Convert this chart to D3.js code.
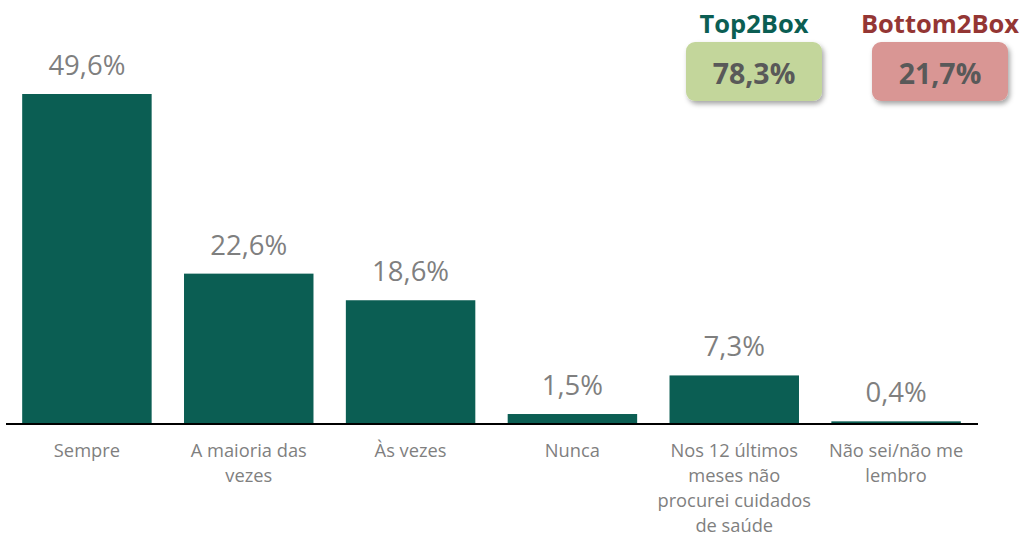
<!DOCTYPE html>
<html>
<head>
<meta charset="utf-8">
<script src="https://cdn.jsdelivr.net/npm/d3@7"></script>
<style>
  html, body { margin: 0; padding: 0; background: #fff; }
  svg { display: block; }
</style>
</head>
<body>
<svg id="chart" width="1021" height="536"></svg>
<script>
// Response categories (lines of each wrapped label) and their shares in percent
const categories = [
  ["Sempre"],
  ["A maioria das", "vezes"],
  ["Às vezes"],
  ["Nunca"],
  ["Nos 12 últimos", "meses não", "procurei cuidados", "de saúde"],
  ["Não sei/não me", "lembro"]
];
const values = [49.6, 22.6, 18.6, 1.5, 7.3, 0.4];

// Summary boxes
const summaryNames = ["Top2Box", "Bottom2Box"];
const summaryValues = [78.3, 21.7];

const fmt = v => v.toFixed(1).replace(".", ",") + "%";

const svg = d3.select("#chart");
const font = "'Open Sans', 'Liberation Sans', sans-serif";

const baseline = 424;
const x = d3.scaleBand()
  .domain(d3.range(categories.length))
  .range([6, 977])
  .paddingInner(0.2)
  .paddingOuter(0.1);

const y = d3.scaleLinear()
  .domain([0, 49.6])
  .range([baseline, 94]);

// Bars
svg.append("g").selectAll("rect")
  .data(values)
  .join("rect")
  .attr("x", (d, i) => x(i))
  .attr("y", d => y(d))
  .attr("width", x.bandwidth())
  .attr("height", d => baseline - y(d))
  .attr("fill", "#0b5e53");

// Value labels
svg.append("g").selectAll("text")
  .data(values)
  .join("text")
  .attr("x", (d, i) => x(i) + x.bandwidth() / 2)
  .attr("y", d => y(d) - 19)
  .attr("text-anchor", "middle")
  .attr("font-family", font)
  .attr("font-size", 27.5)
  .attr("fill", "#7f7f7f")
  .text(d => fmt(d));

// Baseline axis
const xAxis = d3.axisBottom(x).tickSize(0).tickFormat("");
const axisG = svg.append("g")
  .attr("transform", `translate(0,${baseline})`)
  .call(xAxis);
axisG.select(".domain")
  .attr("d", "M6,0H978")
  .attr("stroke", "#000")
  .attr("stroke-width", 2);

// Category labels, wrapped lines
const labels = svg.append("g").selectAll("text")
  .data(categories)
  .join("text")
  .attr("text-anchor", "middle")
  .attr("font-family", font)
  .attr("font-size", 18.3)
  .attr("fill", "#7f7f7f");
labels.each(function (lines, i) {
  const t = d3.select(this);
  lines.forEach((line, j) => {
    t.append("tspan")
      .attr("x", x(i) + x.bandwidth() / 2)
      .attr("y", 457 + j * 25)
      .text(line);
  });
});

// Summary boxes with shadow
const defs = svg.append("defs");
const filt = defs.append("filter").attr("id", "shadow")
  .attr("x", "-20%").attr("y", "-20%").attr("width", "150%").attr("height", "160%");
filt.append("feDropShadow")
  .attr("dx", 2).attr("dy", 3).attr("stdDeviation", 2.5)
  .attr("flood-color", "#000").attr("flood-opacity", 0.35);

const boxX = d3.scaleOrdinal().domain(summaryNames).range([686, 872]);
const boxFill = d3.scaleOrdinal().domain(summaryNames).range(["#c3d69b", "#d99694"]);
const titleFill = d3.scaleOrdinal().domain(summaryNames).range(["#0b5e53", "#943634"]);
const boxW = 136, boxH = 59;

const boxes = svg.append("g").selectAll("g")
  .data(summaryNames.map((n, i) => ({ name: n, value: summaryValues[i] })))
  .join("g");
boxes.append("text")
  .attr("x", d => boxX(d.name) + boxW / 2)
  .attr("y", 33)
  .attr("text-anchor", "middle")
  .attr("font-family", font)
  .attr("font-weight", "bold")
  .attr("font-size", 25.5)
  .attr("fill", d => titleFill(d.name))
  .text(d => d.name);
boxes.append("rect")
  .attr("x", d => boxX(d.name))
  .attr("y", 42)
  .attr("width", boxW)
  .attr("height", boxH)
  .attr("rx", 9)
  .attr("fill", d => boxFill(d.name))
  .attr("filter", "url(#shadow)");
boxes.append("text")
  .attr("x", d => boxX(d.name) + boxW / 2)
  .attr("y", 84)
  .attr("text-anchor", "middle")
  .attr("font-family", font)
  .attr("font-weight", "bold")
  .attr("font-size", 28.5)
  .attr("fill", "#595959")
  .text(d => fmt(d.value));
</script>
</body>
</html>
